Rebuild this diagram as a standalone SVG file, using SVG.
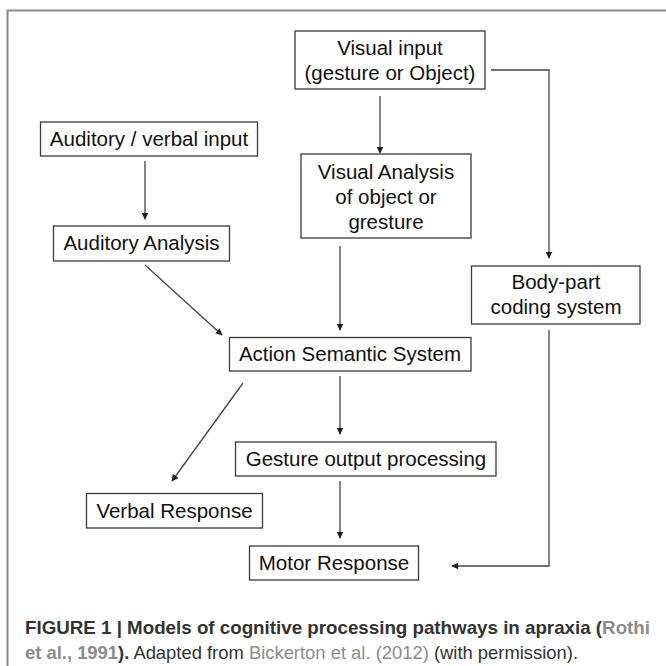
<svg xmlns="http://www.w3.org/2000/svg" width="666" height="666" viewBox="0 0 666 666">
<defs>
<style>
.box{fill:#fff;stroke:#3a3a3a;stroke-width:1.3}
.t{font-family:"Liberation Sans",Arial,sans-serif;font-size:20.5px;fill:#111;text-anchor:middle}
.c{stroke:#444;stroke-width:1.3;fill:none}
.cap{font-family:"Liberation Sans Narrow","Liberation Sans",Arial,sans-serif;font-size:18.5px;fill:#333}
.b{font-weight:bold}
.lk{fill:#8c8c8c}
</style>
<marker id="ah" viewBox="0 0 10 10" refX="9" refY="5" markerWidth="7" markerHeight="7" orient="auto" markerUnits="userSpaceOnUse">
<path d="M0,0 L10,5 L0,10 z" fill="#222"/>
</marker>
</defs>
<rect width="666" height="666" fill="#fff"/>
<path d="M7.5,666 V10.5 H666" stroke="#8a8a8a" stroke-width="2" fill="none"/>
<g id="connectors">
<line class="c" x1="380" y1="96" x2="380" y2="153" marker-end="url(#ah)"/>
<path class="c" d="M491,70 H549 V258" marker-end="url(#ah)"/>
<line class="c" x1="145" y1="161" x2="145" y2="219" marker-end="url(#ah)"/>
<line class="c" x1="340" y1="246" x2="340" y2="330" marker-end="url(#ah)"/>
<line class="c" x1="145" y1="265" x2="222" y2="335" marker-end="url(#ah)"/>
<line class="c" x1="340" y1="376" x2="340" y2="434" marker-end="url(#ah)"/>
<line class="c" x1="243" y1="383" x2="172" y2="481" marker-end="url(#ah)"/>
<line class="c" x1="340" y1="481" x2="340" y2="538" marker-end="url(#ah)"/>
<path class="c" d="M549,330 V566 H452" marker-end="url(#ah)"/>
</g>
<g id="visual-input">
<rect class="box" x="295" y="31" width="190" height="58"/>
<text class="t" x="390" y="55">Visual input</text>
<text class="t" x="390" y="80">(gesture or Object)</text>
</g>
<g id="auditory-verbal-input">
<rect class="box" x="40.5" y="122" width="217" height="34"/>
<text class="t" x="149" y="146">Auditory / verbal input</text>
</g>
<g id="visual-analysis">
<rect class="box" x="301" y="154" width="170" height="84"/>
<text class="t" x="386" y="179">Visual Analysis</text>
<text class="t" x="386" y="204">of object or</text>
<text class="t" x="386" y="229">gresture</text>
</g>
<g id="auditory-analysis">
<rect class="box" x="53.5" y="226" width="176" height="35"/>
<text class="t" x="141.5" y="250">Auditory Analysis</text>
</g>
<g id="body-part">
<rect class="box" x="471.5" y="266" width="168.5" height="58"/>
<text class="t" x="556" y="289">Body-part</text>
<text class="t" x="556" y="314">coding system</text>
</g>
<g id="action-semantic">
<rect class="box" x="229.5" y="337.5" width="241.5" height="33.5"/>
<text class="t" x="350" y="361">Action Semantic System</text>
</g>
<g id="gesture-output">
<rect class="box" x="235.5" y="442" width="260.5" height="34"/>
<text class="t" x="366" y="466">Gesture output processing</text>
</g>
<g id="verbal-response">
<rect class="box" x="86.5" y="493.5" width="176" height="34.5"/>
<text class="t" x="174.5" y="518">Verbal Response</text>
</g>
<g id="motor-response">
<rect class="box" x="249.5" y="546" width="169" height="34"/>
<text class="t" x="334" y="570">Motor Response</text>
</g>
<g id="caption">
<text class="cap b" x="25" y="634" textLength="625" lengthAdjust="spacingAndGlyphs">FIGURE 1 | Models of cognitive processing pathways in apraxia (<tspan class="lk">Rothi</tspan></text>
<text class="cap" x="25" y="659" textLength="553" lengthAdjust="spacingAndGlyphs"><tspan class="b lk">et al., 1991</tspan><tspan class="b">).</tspan> Adapted from <tspan class="lk">Bickerton et al. (2012)</tspan> (with permission).</text>
</g>
</svg>
